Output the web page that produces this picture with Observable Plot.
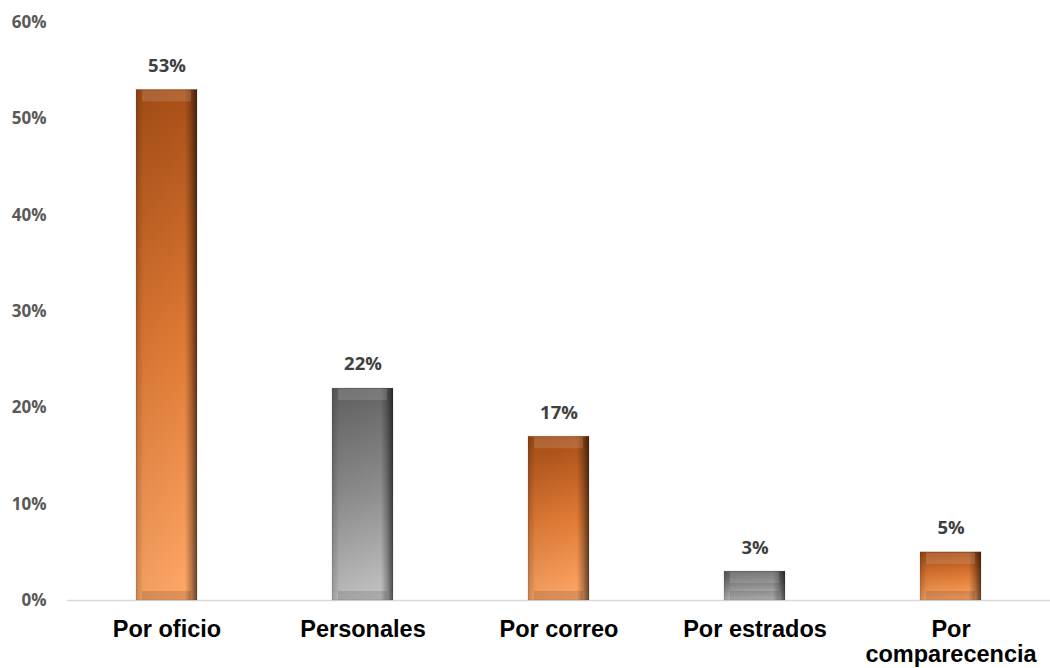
<!DOCTYPE html>
<html>
<head>
<meta charset="utf-8">
<script src="https://cdn.jsdelivr.net/npm/d3@7"></script>
<script src="https://cdn.jsdelivr.net/npm/@observablehq/plot@0.6"></script>
<style>
  html, body { margin: 0; padding: 0; background: #fff; }
  #chart { width: 1050px; height: 668px; }
</style>
</head>
<body>
<div id="chart"></div>
<script>
const categories = ["Por oficio", "Personales", "Por correo", "Por estrados", "Por comparecencia"];
const categoryLabels = ["Por oficio", "Personales", "Por correo", "Por estrados", "Por\ncomparecencia"];
const values = [53, 22, 17, 3, 5];
const colorGroups = ["orange", "gray", "orange", "gray", "orange"];
const yTicks = [0, 10, 20, 30, 40, 50, 60];

const data = categories.map((c, i) => ({ cat: c, value: values[i], group: colorGroups[i] }));
const labelOf = new Map(categories.map((c, i) => [c, categoryLabels[i]]));

const plot = Plot.plot({
  width: 1050,
  height: 668,
  marginLeft: 67,
  marginRight: 0,
  marginTop: 22,
  marginBottom: 68,
  style: { background: "#fff", overflow: "visible" },
  x: { domain: categories, paddingInner: 0.69, paddingOuter: 0.345, label: null },
  y: { domain: [0, 60], label: null },
  marks: [
    Plot.axisY({
      ticks: yTicks, tickSize: 0, tickPadding: 21,
      tickFormat: d => d + "%",
      fontFamily: "'Open Sans', Lato, sans-serif", fontWeight: "bold", fontSize: 17,
      fill: "#595959"
    }),
    Plot.axisX({
      tickSize: 0, tickPadding: 19, lineAnchor: "top",
      tickFormat: d => labelOf.get(d),
      fontFamily: "'Liberation Sans', Arial, sans-serif", fontWeight: "bold", fontSize: 23.5,
      fill: "#000", lineHeight: 1.07
    }),
    Plot.ruleY([0], { stroke: "#d9d9d9", strokeWidth: 1.5 }),
    Plot.barY(data.filter(d => d.group === "orange"), { x: "cat", y: "value", fill: "url(#gOrange)" }),
    Plot.barY(data.filter(d => d.group === "gray"), { x: "cat", y: "value", fill: "url(#gGray)" }),
    Plot.barY(data, { x: "cat", y: "value", fill: "url(#gSide)" }),
    Plot.tickY(data, { x: "cat", y: "value", dy: 6, strokeWidth: 11, stroke: "#fff", strokeOpacity: 0.13, inset: 6 }),
    Plot.tickY(data, { x: "cat", y: d => 0, dy: -5, strokeWidth: 9, stroke: "#000", strokeOpacity: 0.12, inset: 6 }),
    Plot.barY(data, { x: "cat", y: "value", fill: "none", stroke: "#000", strokeOpacity: 0.12, strokeWidth: 1 }),
    Plot.text(data, {
      x: "cat", y: "value", text: d => d.value + "%", dy: -24,
      fontFamily: "'Open Sans', Lato, sans-serif", fontWeight: "bold", fontSize: 18.5, fill: "#404040"
    })
  ]
});

const defs = d3.select(plot).insert("defs", ":first-child");
function vgrad(id, stops) {
  const g = defs.append("linearGradient").attr("id", id).attr("x1", 0).attr("y1", 0).attr("x2", 0).attr("y2", 1);
  stops.forEach(([o, c]) => g.append("stop").attr("offset", o).attr("stop-color", c));
}
vgrad("gOrange", [[0, "#a84f17"], [0.5, "#e07a34"], [1, "#ffa868"]]);
vgrad("gGray", [[0, "#646464"], [0.5, "#8f8f8f"], [1, "#c4c4c4"]]);
const side = defs.append("linearGradient").attr("id", "gSide").attr("x1", 0).attr("y1", 0).attr("x2", 1).attr("y2", 0);
[[0, 0.22], [0.12, 0.05], [0.8, 0], [0.9, 0.25], [1, 0.6]].forEach(([o, op]) =>
  side.append("stop").attr("offset", o).attr("stop-color", "#000").attr("stop-opacity", op));

document.getElementById("chart").appendChild(plot);
</script>
</body>
</html>
